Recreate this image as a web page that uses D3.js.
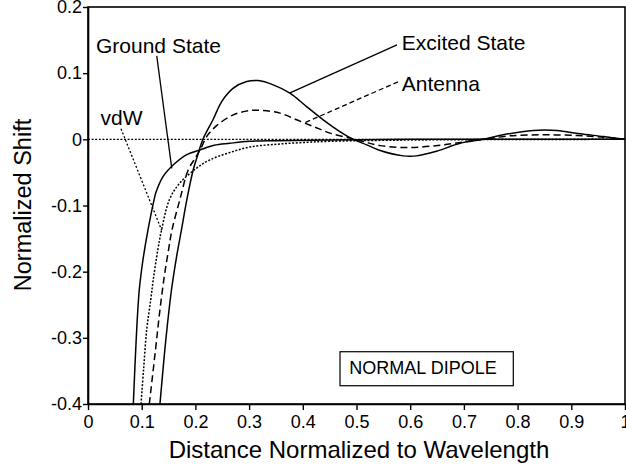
<!DOCTYPE html>
<html>
<head>
<meta charset="utf-8">
<script src="https://cdn.jsdelivr.net/npm/d3@7"></script>
<style>
  body { margin: 0; background: #fff; }
  svg { display: block; }
</style>
</head>
<body>
<div id="chart"></div>
<script>
// ---------------------------DATA-----------------------------------
const groundX = [0.0844, 0.0899, 0.0955, 0.1024, 0.1117, 0.123, 0.1266, 0.14, 0.159, 0.184, 0.2086, 0.235, 0.264, 0.3, 0.35, 0.45, 0.6, 0.8, 1.0];
const groundY = [-0.4, -0.3, -0.2273, -0.182, -0.137, -0.0914, -0.08, -0.056, -0.0385, -0.023, -0.016, -0.009, -0.006, -0.003, -0.002, -0.001, 0, 0, 0];

const vdwX = [0.0987, 0.1035, 0.1093, 0.1168, 0.1216, 0.13, 0.137, 0.1515, 0.171, 0.2024, 0.227, 0.264, 0.3017, 0.35, 0.395, 0.45, 0.55, 0.7, 1.0];
const vdwY = [-0.4, -0.348, -0.288, -0.2424, -0.212, -0.167, -0.137, -0.0914, -0.066, -0.0435, -0.031, -0.02, -0.0115, -0.0075, -0.005, -0.003, -0.0015, -0.0005, 0];

const antennaX = [0.1142, 0.1257, 0.134, 0.1425, 0.15, 0.1564, 0.171, 0.1868, 0.2, 0.21, 0.221, 0.24, 0.2706, 0.3017, 0.3265, 0.3575, 0.3886, 0.42, 0.4507, 0.4879, 0.5127, 0.544, 0.6, 0.662, 0.7175, 0.736, 0.786, 0.848, 0.91, 0.96, 1.0];
const antennaY = [-0.4, -0.318, -0.2576, -0.2047, -0.167, -0.137, -0.0914, -0.046, -0.028, -0.014, 0.0042, 0.021, 0.037, 0.0435, 0.0435, 0.0396, 0.0295, 0.0193, 0.0094, 0.0018, -0.0033, -0.0095, -0.0124, -0.0083, -0.0018, 0, 0.0053, 0.0068, 0.0058, 0.0033, 0];

const excitedX = [0.134, 0.1453, 0.1555, 0.164, 0.174, 0.184, 0.196, 0.2054, 0.214, 0.233, 0.249, 0.2706, 0.2955, 0.317, 0.345, 0.376, 0.407, 0.438, 0.469, 0.494, 0.519, 0.544, 0.587, 0.612, 0.649, 0.693, 0.736, 0.773, 0.829, 0.873, 0.916, 0.96, 1.0];
const excitedY = [-0.4, -0.3, -0.2273, -0.182, -0.137, -0.0914, -0.046, -0.0209, 0, 0.03, 0.057, 0.0773, 0.0873, 0.0888, 0.0823, 0.0698, 0.0495, 0.0295, 0.0118, 0, -0.0083, -0.017, -0.025, -0.025, -0.018, -0.006, 0, 0.0068, 0.0133, 0.0133, 0.0083, 0.0042, 0];

const xTicks = [0, 0.1, 0.2, 0.3, 0.4, 0.5, 0.6, 0.7, 0.8, 0.9, 1];
const yTicks = [0.2, 0.1, 0, -0.1, -0.2, -0.3, -0.4];

// label text, anchor in data units, leader line start/end in data units
const labels = [
  { text: "Ground State", x: 0.0149, y: 0.1311, from: [0.128, 0.1261], to: [0.156, -0.044], dash: null },
  { text: "Excited State", x: 0.5842, y: 0.1352, from: [0.5754, 0.1427], to: [0.3762, 0.0702], dash: null },
  { text: "Antenna", x: 0.5842, y: 0.0737, from: [0.5773, 0.0869], to: [0.4013, 0.0242], dash: "5,3" },
  { text: "vdW", x: 0.0233, y: 0.0219, from: [0.0615, 0.0159], to: [0.1372, -0.1375], dash: "2,2" },
];

// ---------------------------CHART-----------------------------------
const width = 626;
const height = 467;
const margin = { top: 7, right: 1, bottom: 63, left: 88 };
const font = "'Liberation Sans', Arial, Helvetica, sans-serif";

const svg = d3.select("#chart")
  .append("svg")
  .attr("width", width)
  .attr("height", height);

const x = d3.scaleLinear().domain([0, 1]).range([margin.left, width - margin.right]);
const y = d3.scaleLinear().domain([-0.4, 0.2]).range([height - margin.bottom, margin.top]);

svg.append("clipPath")
  .attr("id", "clip")
  .append("rect")
  .attr("x", x(0))
  .attr("y", y(0.2))
  .attr("width", x(1) - x(0))
  .attr("height", y(-0.4) - y(0.2));

// zero line
svg.append("line")
  .attr("x1", x(0)).attr("x2", x(1))
  .attr("y1", y(0)).attr("y2", y(0))
  .attr("stroke", "#000")
  .attr("stroke-width", 1.3)
  .attr("stroke-dasharray", "2,1.6");

const series = [
  { xs: groundX, ys: groundY, dash: null },
  { xs: vdwX, ys: vdwY, dash: "2,1.6" },
  { xs: antennaX, ys: antennaY, dash: "7,4" },
  { xs: excitedX, ys: excitedY, dash: null },
];

const line = d3.line()
  .x((d) => x(d[0]))
  .y((d) => y(d[1]))
  .curve(d3.curveCatmullRom.alpha(0.5));

svg.append("g")
  .attr("clip-path", "url(#clip)")
  .selectAll("path")
  .data(series)
  .join("path")
  .attr("d", (s) => line(d3.zip(s.xs, s.ys)))
  .attr("fill", "none")
  .attr("stroke", "#000")
  .attr("stroke-width", 1.5)
  .attr("stroke-dasharray", (s) => s.dash);

// frame
svg.append("rect")
  .attr("x", x(0))
  .attr("y", y(0.2))
  .attr("width", x(1) - x(0))
  .attr("height", y(-0.4) - y(0.2))
  .attr("fill", "none")
  .attr("stroke", "#000")
  .attr("stroke-width", 1.6);

const fmt = (d) => String(+d.toFixed(1));

const xAxis = svg.append("g")
  .attr("transform", `translate(0,${y(-0.4)})`)
  .call(d3.axisBottom(x).tickValues(xTicks).tickFormat(fmt).tickSize(6).tickPadding(5).tickSizeOuter(0));

const yAxis = svg.append("g")
  .attr("transform", `translate(${x(0)},0)`)
  .call(d3.axisLeft(y).tickValues(yTicks).tickFormat(fmt).tickSize(5).tickPadding(1).tickSizeOuter(0));

[xAxis, yAxis].forEach((g) => {
  g.select(".domain").attr("stroke-width", 1.6);
  g.selectAll(".tick line").attr("stroke-width", 1.4);
  g.selectAll(".tick text")
    .attr("font-family", font)
    .attr("font-size", "18px")
    .attr("fill", "#000");
});

// axis titles
svg.append("text")
  .attr("x", 359)
  .attr("y", 458)
  .attr("text-anchor", "middle")
  .attr("font-family", font)
  .attr("font-size", "24px")
  .text("Distance Normalized to Wavelength");

svg.append("text")
  .attr("transform", "translate(31,205) rotate(-90)")
  .attr("text-anchor", "middle")
  .attr("font-family", font)
  .attr("font-size", "23.5px")
  .text("Normalized Shift");

// ---------------------------LABELS-----------------------------------
svg.append("g")
  .selectAll("line")
  .data(labels)
  .join("line")
  .attr("x1", (d) => x(d.from[0]))
  .attr("y1", (d) => y(d.from[1]))
  .attr("x2", (d) => x(d.to[0]))
  .attr("y2", (d) => y(d.to[1]))
  .attr("stroke", "#000")
  .attr("stroke-width", 1.3)
  .attr("stroke-dasharray", (d) => d.dash);

svg.append("g")
  .selectAll("text")
  .data(labels)
  .join("text")
  .attr("x", (d) => x(d.x))
  .attr("y", (d) => y(d.y))
  .attr("font-family", font)
  .attr("font-size", "21px")
  .text((d) => d.text);

// NORMAL DIPOLE box
svg.append("rect")
  .attr("x", x(0.4693))
  .attr("y", y(-0.321))
  .attr("width", x(0.792) - x(0.4693))
  .attr("height", y(-0.3724) - y(-0.321))
  .attr("fill", "#fff")
  .attr("stroke", "#000")
  .attr("stroke-width", 1.2);

svg.append("text")
  .attr("x", x(0.4866))
  .attr("y", y(-0.355))
  .attr("font-family", font)
  .attr("font-size", "18px")
  .text("NORMAL DIPOLE");
</script>
</body>
</html>
